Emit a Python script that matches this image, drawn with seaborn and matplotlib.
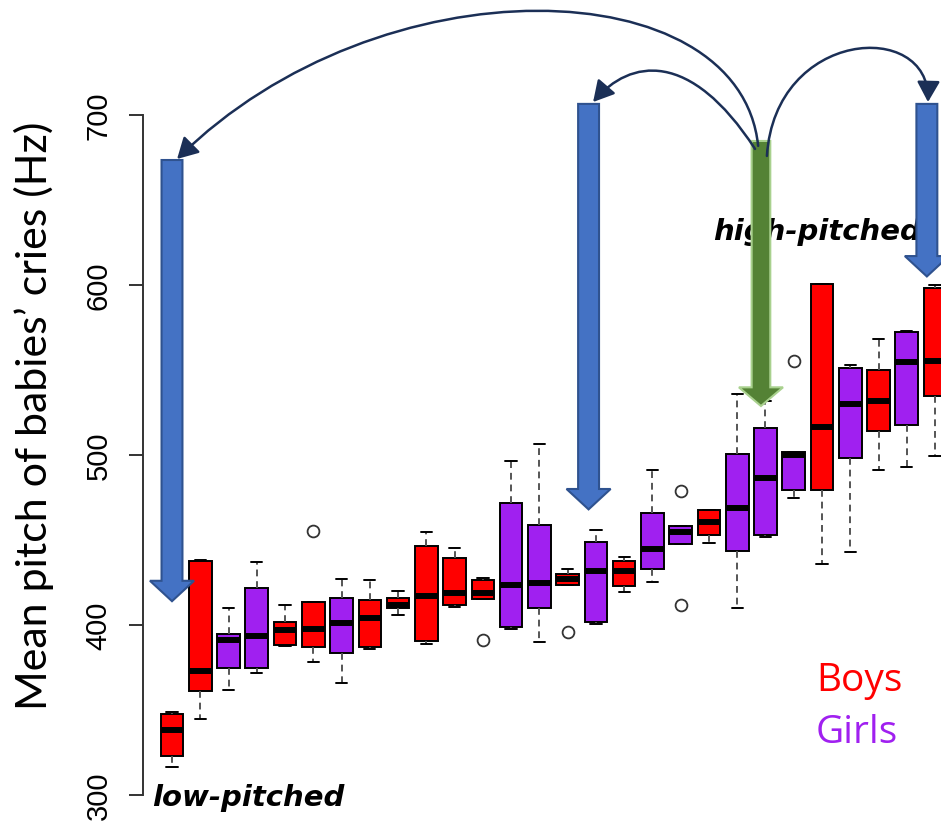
import numpy as np
import pandas as pd
import seaborn as sns
import matplotlib.pyplot as plt
from matplotlib.path import Path
from matplotlib.patches import FancyArrowPatch

# 各ボックスの性別と五数要約
sex = ['Boys', 'Boys', 'Girls', 'Girls', 'Boys', 'Boys', 'Girls', 'Boys', 'Boys', 'Boys',
       'Boys', 'Boys', 'Girls', 'Girls', 'Boys', 'Girls', 'Boys', 'Girls', 'Girls', 'Boys',
       'Girls', 'Girls', 'Girls', 'Boys', 'Girls', 'Boys', 'Girls', 'Boys']
lo = [316.5, 345, 362, 372, 387.5, 378, 366, 386, 406, 389,
      410.6, 415, 397.6, 390, 423.5, 400.6, 419.4, 425, 447.6, 448,
      410, 452, 474.7, 436, 443, 491, 493, 499.5]
q1 = [323, 361, 375, 375, 388.5, 387, 383.5, 387, 410, 390.6,
      412, 415.5, 399, 410, 423.5, 402, 422.9, 433, 447.6, 453,
      443.5, 453, 479.4, 479.4, 498, 514, 517.6, 534.7]
med = [338, 373, 391, 393.5, 397, 397.6, 401, 404, 412, 417,
       418.8, 419, 423.5, 424.7, 427, 431.6, 431.8, 444.7, 454.7, 460.6,
       468.8, 486.5, 500, 516.5, 530, 532, 554.7, 555]
q3 = [347.6, 437.6, 394.7, 421.7, 401.8, 413.5, 416, 414.7, 416, 446.5,
      439.4, 426.5, 472, 459, 430, 448.8, 437.6, 466, 458, 467.6,
      500.6, 515.9, 501.7, 600.6, 551, 550, 572.4, 598]
hi = [348.8, 438.5, 410, 437, 412, 413.5, 427, 426.5, 420, 454.7,
      445, 427.6, 496.5, 506.5, 433, 455.9, 440, 491, 458, 467.6,
      536, 532, 501.7, 600.6, 553, 568, 573, 600]
outliers = {5: [455], 11: [391], 14: [396], 18: [412, 479], 22: [555]}

colors = {'Boys': '#FF0000', 'Girls': '#A020F0'}

# 矢印（箱の番号, 上端Hz, 先端Hz）
blue_arrows = [(0, 673.5, 414), (14.74, 706.5, 468), (26.71, 706.5, 605)]
green_arrow = (20.84, 684.7, 528.8)

# 四分位がそのまま出るように点列を組み立てる
rows = []
for i in range(len(sex)):
    vals = [lo[i]] + [q1[i]] * 20 + [med[i]] * 20 + [q3[i]] * 20 + [hi[i]] + outliers.get(i, [])
    for v in vals:
        rows.append({'box': i, 'sex': sex[i], 'pitch': v})
df = pd.DataFrame(rows)

sns.set_style("white")
plt.rcParams['font.family'] = ['Liberation Sans', 'DejaVu Sans']

fig = plt.figure(figsize=(9.41, 8.29), dpi=100)
ax = fig.add_axes([143 / 941, 0, 798 / 941, 1])

sns.boxplot(data=df, x='box', y='pitch', hue='sex', palette=colors, dodge=False,
            width=0.8, saturation=1, linecolor='black', linewidth=1.4, fliersize=8.5,
            legend=False, ax=ax,
            medianprops=dict(color='black', linewidth=4.3),
            whiskerprops=dict(color='#555555', linestyle=(0, (3.5, 2.5))),
            capprops=dict(color='black'),
            flierprops=dict(marker='o', markerfacecolor='none', markeredgecolor='#333333',
                            markeredgewidth=1.3))

ax.set_xlim(-1.026, 27.21)
ax.set_ylim(280.6, 768.2)
ax.set_xticks([])
ax.set_xlabel('')
for s in ['top', 'right', 'bottom']:
    ax.spines[s].set_visible(False)
ax.spines['left'].set_bounds(300, 700)
ax.spines['left'].set_color('#333333')
ax.spines['left'].set_linewidth(1.4)
ax.set_yticks([300, 400, 500, 600, 700])
ax.tick_params(axis='y', left=True, length=10, width=1.4, color='#333333', pad=12,
               labelsize=21, labelcolor='black', labelrotation=90)
for lbl in ax.get_yticklabels():
    lbl.set_va('center')
ax.set_ylabel('Mean pitch of babies’ cries (Hz)', fontsize=31, color='black',
              family=['Lato', 'DejaVu Sans'])
ax.yaxis.set_label_coords(-0.112, 0.498)

# テキスト
ax.text(-0.71, 294, 'low-pitched', fontsize=21, fontweight='bold', style='italic',
        family='DejaVu Sans', color='black', va='baseline', zorder=5)
ax.text(19.14, 627, 'high-pitched', fontsize=21, fontweight='bold', style='italic',
        family='DejaVu Sans', color='black', va='baseline', zorder=5)
ax.text(22.79, 362, 'Boys', fontsize=28, color=colors['Boys'], family=['Open Sans', 'DejaVu Sans'],
        va='baseline')
ax.text(22.79, 331, 'Girls', fontsize=28, color=colors['Girls'], family=['Open Sans', 'DejaVu Sans'],
        va='baseline')

# ブロック矢印
for x, top, tip in blue_arrows:
    ax.arrow(x, top, 0, tip - top, width=0.74, head_width=1.56, head_length=12,
             length_includes_head=True, fc='#4472C4', ec='#2F528F', lw=1.5, zorder=8,
             clip_on=False)
gx, gtop, gtip = green_arrow
ax.arrow(gx, gtop, 0, gtip - gtop, width=0.66, head_width=1.56, head_length=11,
         length_includes_head=True, fc='#548235', ec='#A9D18E', lw=1.5, zorder=8, clip_on=False)

# 緑の矢印から青い矢印へ向かう曲線
curves = [
    [(20.74, 681.8), (20.10, 785.9), (7.36, 791.8), (0.18, 674.1)],
    [(20.63, 680.0), (18.33, 738.8), (16.21, 732.9), (14.90, 707.6)],
    [(21.05, 675.9), (21.34, 750.6), (26.82, 756.5), (26.75, 707.6)],
]
for pts in curves:
    path = Path(pts, [Path.MOVETO, Path.CURVE4, Path.CURVE4, Path.CURVE4])
    arr = FancyArrowPatch(path=path, arrowstyle='-|>,head_length=0.9,head_width=0.5',
                          mutation_scale=14, lw=1.8, color='#1B2F56', transform=ax.transData,
                          zorder=9, clip_on=False)
    ax.add_patch(arr)

plt.savefig('out.png', dpi=100)
